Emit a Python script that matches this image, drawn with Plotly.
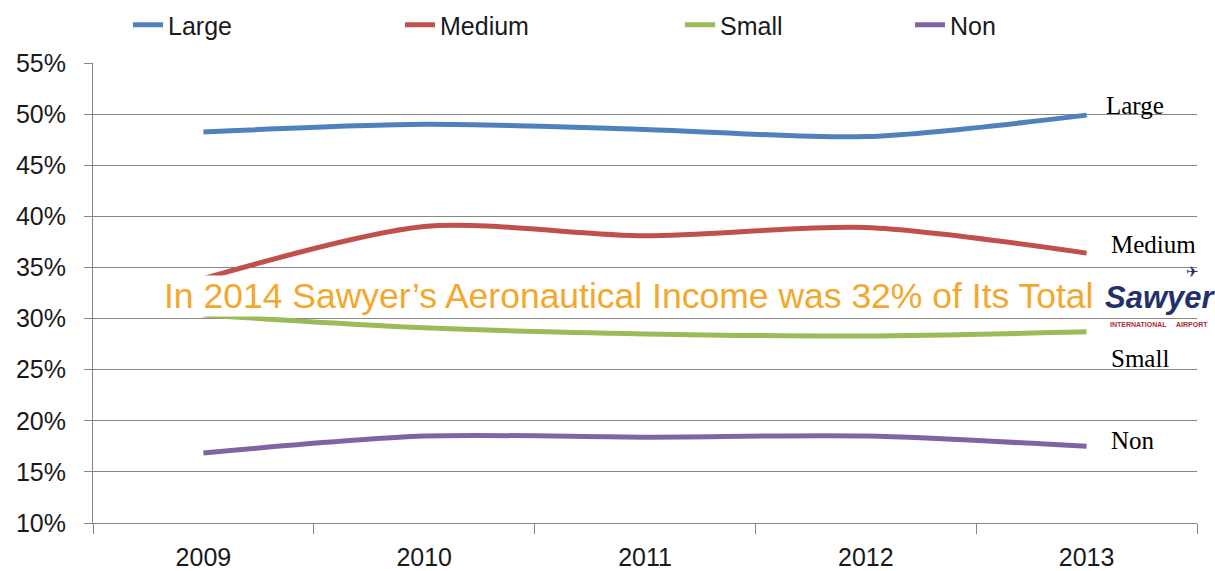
import plotly.graph_objects as go

years = ["2009", "2010", "2011", "2012", "2013"]
large = [48.25, 49.0, 48.5, 47.8, 49.9]
medium = [33.9, 39.0, 38.1, 38.9, 36.4]
small = [30.35, 29.1, 28.5, 28.3, 28.7]
non = [16.85, 18.5, 18.4, 18.5, 17.5]

series = [
    ("Large", large, "#4F81BD"),
    ("Medium", medium, "#C0504D"),
    ("Small", small, "#9BBB59"),
    ("Non", non, "#8064A2"),
]
legend_ids = ["legend", "legend2", "legend3", "legend4"]
legend_left_px = [128, 400, 680, 910]

W, H = 1215, 571
ML, MR, MT, MB = 93, 18, 63, 48
FONT = "Liberation Sans, Arial, sans-serif"
SERIF = "Liberation Serif, Times New Roman, serif"


def px_to_paper(px):
    return (px - ML) / (W - ML - MR)


fig = go.Figure()
for (name, vals, color), lid in zip(series, legend_ids):
    fig.add_trace(go.Scatter(
        x=years, y=vals, name=name, mode="lines",
        line=dict(color=color, width=5, shape="spline", smoothing=0.8),
        legend=lid,
    ))

layout_legends = {}
for lid, px in zip(legend_ids, legend_left_px):
    layout_legends[lid] = dict(
        xref="container", yref="container",
        x=px / W, y=1 - 25 / H, xanchor="left", yanchor="middle",
        orientation="h", bgcolor="rgba(0,0,0,0)",
        font=dict(family=FONT, size=25, color="#1a1a1a"),
        itemwidth=30, tracegroupgap=0,
    )

fig.update_layout(
    width=W, height=H,
    margin=dict(l=ML, r=MR, t=MT, b=MB, autoexpand=False),
    paper_bgcolor="white", plot_bgcolor="white",
    showlegend=True,
    **layout_legends,
)

fig.update_xaxes(
    type="category", range=[-0.5, 4.5], automargin=False,
    showline=True, linecolor="#868686", linewidth=1,
    ticks="outside", tickson="boundaries", ticklen=10, tickcolor="#868686",
    showgrid=False,
    tickfont=dict(family=FONT, size=25, color="#1a1a1a"),
    ticklabelstandoff=12,
)
fig.update_yaxes(
    range=[10, 55], dtick=5, ticksuffix="%", automargin=False,
    showline=True, linecolor="#868686", linewidth=1,
    ticks="outside", ticklen=8, tickcolor="#868686",
    showgrid=True, gridcolor="#868686", gridwidth=1,
    zeroline=False,
    tickfont=dict(family=FONT, size=25, color="#1a1a1a"),
    ticklabelstandoff=13,
)

# series labels at the right end of each line
end_labels = [("Large", 50.8, 1104), ("Medium", 37.2, 1109), ("Small", 26.1, 1109), ("Non", 18.1, 1109)]
for text, yv, px in end_labels:
    fig.add_annotation(
        xref="paper", yref="y", x=px_to_paper(px), y=yv,
        text=text, showarrow=False, xanchor="left", yanchor="middle",
        font=dict(family=SERIF, size=25, color="#000000"),
    )

# headline banner across the chart
fig.add_annotation(
    xref="paper", yref="y", x=px_to_paper(628), y=32.2,
    text="In 2014 Sawyer\u2019s Aeronautical Income was 32% of Its Total",
    showarrow=False, xanchor="center", yanchor="middle",
    bgcolor="white", borderpad=0,
    font=dict(family=FONT, size=35.5, color="#F2A82C"),
)

# airport logo
fig.add_annotation(
    xref="paper", yref="y", x=px_to_paper(1160), y=32.1,
    text="<b><i>Sawyer</i></b>",
    showarrow=False, xanchor="center", yanchor="middle",
    bgcolor="white",
    font=dict(family=FONT, size=31, color="#23306B"),
)
fig.add_annotation(
    xref="paper", yref="y", x=px_to_paper(1159), y=29.4,
    text="<b>INTERNATIONAL     AIRPORT</b>",
    showarrow=False, xanchor="center", yanchor="middle",
    font=dict(family=FONT, size=7, color="#B02A30"),
)
fig.add_annotation(
    xref="paper", yref="y", x=px_to_paper(1192), y=34.6,
    text="\u2708",
    showarrow=False, xanchor="center", yanchor="middle",
    font=dict(family="DejaVu Sans", size=15, color="#23306B"),
)

fig.write_html("out.html")
